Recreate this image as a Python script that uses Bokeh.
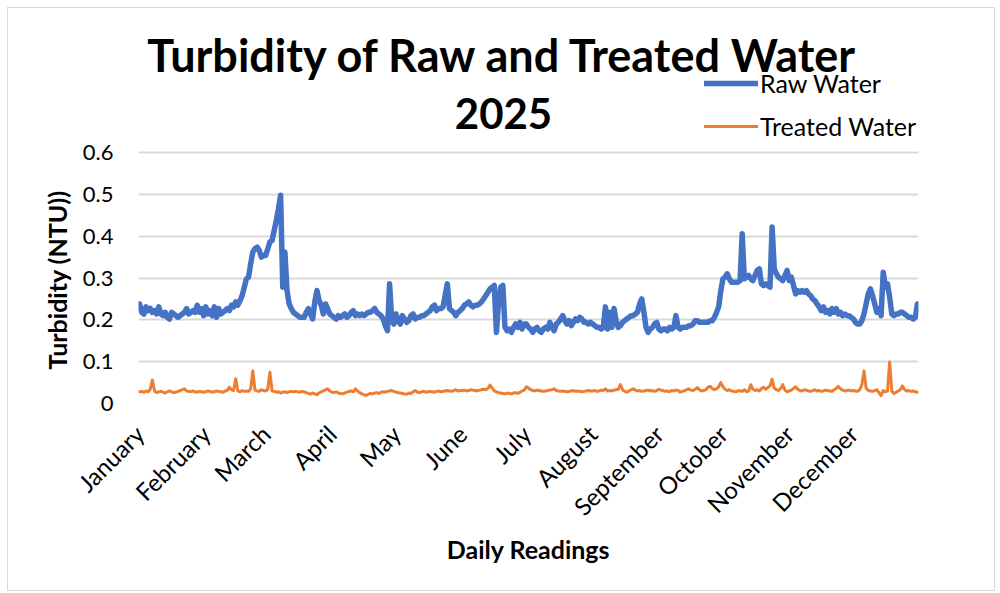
from math import pi
from bokeh.plotting import figure
from bokeh.models import Range1d, FixedTicker, Label, Legend, LegendItem, Title
from bokeh.embed import file_html
from bokeh.resources import INLINE

months = ["January", "February", "March", "April", "May", "June", "July",
          "August", "September", "October", "November", "December"]
month_days = [31, 28, 31, 30, 31, 30, 31, 31, 30, 31, 30, 31]
y_ticks = [0, 0.1, 0.2, 0.3, 0.4, 0.5, 0.6]
y_tick_labels = ["0", "0.1", "0.2", "0.3", "0.4", "0.5", "0.6"]

# Raw water turbidity (NTU), daily readings per month
raw_jan = [0.238, 0.218, 0.214, 0.231, 0.222, 0.227, 0.218, 0.222, 0.214, 0.231,
           0.214, 0.210, 0.218, 0.206, 0.202, 0.218, 0.214, 0.210, 0.206, 0.210,
           0.214, 0.218, 0.227, 0.214, 0.218, 0.222, 0.218, 0.235, 0.218, 0.227,
           0.210]
raw_feb = [0.231, 0.214, 0.222, 0.210, 0.231, 0.206, 0.227, 0.214, 0.218, 0.222,
           0.227, 0.222, 0.235, 0.231, 0.243, 0.235, 0.246, 0.258, 0.278, 0.298,
           0.302, 0.334, 0.362, 0.370, 0.374, 0.366, 0.350, 0.354]
raw_mar = [0.354, 0.370, 0.386, 0.390, 0.414, 0.438, 0.466, 0.498, 0.278, 0.362,
           0.270, 0.238, 0.227, 0.218, 0.214, 0.210, 0.206, 0.206, 0.206, 0.218,
           0.227, 0.214, 0.202, 0.243, 0.270, 0.246, 0.235, 0.214, 0.238, 0.227,
           0.214]
raw_apr = [0.210, 0.206, 0.202, 0.210, 0.206, 0.210, 0.214, 0.206, 0.210, 0.218,
           0.222, 0.210, 0.214, 0.210, 0.214, 0.210, 0.214, 0.218, 0.218, 0.222,
           0.227, 0.218, 0.214, 0.210, 0.202, 0.186, 0.174, 0.286, 0.198, 0.190]
raw_may = [0.214, 0.198, 0.190, 0.210, 0.202, 0.194, 0.198, 0.210, 0.214, 0.202,
           0.206, 0.206, 0.210, 0.210, 0.214, 0.218, 0.222, 0.231, 0.235, 0.222,
           0.227, 0.227, 0.231, 0.258, 0.286, 0.227, 0.222, 0.218, 0.210, 0.218,
           0.222]
raw_jun = [0.227, 0.235, 0.238, 0.243, 0.235, 0.231, 0.235, 0.235, 0.238, 0.243,
           0.250, 0.258, 0.266, 0.274, 0.278, 0.282, 0.170, 0.243, 0.278, 0.282,
           0.182, 0.174, 0.178, 0.170, 0.182, 0.190, 0.182, 0.194, 0.178, 0.190]
raw_jul = [0.190, 0.182, 0.178, 0.170, 0.178, 0.182, 0.174, 0.170, 0.178, 0.182,
           0.178, 0.194, 0.182, 0.174, 0.190, 0.194, 0.202, 0.210, 0.198, 0.190,
           0.198, 0.186, 0.194, 0.202, 0.198, 0.206, 0.202, 0.194, 0.194, 0.190,
           0.194]
raw_aug = [0.190, 0.186, 0.182, 0.182, 0.178, 0.182, 0.231, 0.178, 0.218, 0.182,
           0.227, 0.198, 0.182, 0.186, 0.194, 0.198, 0.202, 0.206, 0.210, 0.210,
           0.214, 0.218, 0.238, 0.250, 0.218, 0.182, 0.170, 0.178, 0.182, 0.190,
           0.194]
raw_sep = [0.178, 0.174, 0.178, 0.178, 0.174, 0.182, 0.178, 0.182, 0.210, 0.182,
           0.178, 0.182, 0.182, 0.182, 0.186, 0.186, 0.190, 0.198, 0.198, 0.194,
           0.194, 0.194, 0.194, 0.194, 0.198, 0.198, 0.206, 0.218, 0.231, 0.270]
raw_oct = [0.298, 0.302, 0.310, 0.298, 0.290, 0.290, 0.290, 0.290, 0.294, 0.406,
           0.298, 0.302, 0.306, 0.298, 0.294, 0.306, 0.318, 0.322, 0.286, 0.282,
           0.286, 0.282, 0.278, 0.422, 0.322, 0.310, 0.302, 0.298, 0.294, 0.306,
           0.318]
raw_nov = [0.294, 0.302, 0.282, 0.262, 0.270, 0.266, 0.270, 0.266, 0.270, 0.262,
           0.258, 0.250, 0.246, 0.238, 0.231, 0.222, 0.231, 0.218, 0.222, 0.214,
           0.227, 0.218, 0.227, 0.214, 0.218, 0.210, 0.214, 0.210, 0.210, 0.206]
raw_dec = [0.202, 0.194, 0.190, 0.190, 0.198, 0.214, 0.238, 0.262, 0.274, 0.258,
           0.238, 0.218, 0.227, 0.210, 0.314, 0.278, 0.286, 0.254, 0.214, 0.210,
           0.214, 0.214, 0.218, 0.218, 0.214, 0.210, 0.206, 0.206, 0.202, 0.206,
           0.238]

# Treated water turbidity (NTU), daily readings per month
treated_jan = [0.028, 0.029, 0.027, 0.030, 0.028, 0.034, 0.056, 0.030, 0.026, 0.028,
               0.029, 0.027, 0.025, 0.028, 0.030, 0.028, 0.026, 0.027, 0.029, 0.031,
               0.033, 0.035, 0.030, 0.029, 0.028, 0.030, 0.028, 0.027, 0.029, 0.028,
               0.027]
treated_feb = [0.028, 0.030, 0.029, 0.027, 0.028, 0.030, 0.029, 0.028, 0.027, 0.030,
               0.031, 0.039, 0.033, 0.031, 0.059, 0.030, 0.028, 0.031, 0.029, 0.030,
               0.029, 0.035, 0.078, 0.032, 0.030, 0.029, 0.033, 0.031]
treated_mar = [0.030, 0.034, 0.075, 0.030, 0.029, 0.027, 0.028, 0.025, 0.027, 0.028,
               0.026, 0.028, 0.029, 0.028, 0.029, 0.028, 0.027, 0.029, 0.028, 0.026,
               0.024, 0.022, 0.025, 0.023, 0.021, 0.025, 0.028, 0.030, 0.033, 0.035,
               0.030]
treated_apr = [0.027, 0.026, 0.028, 0.025, 0.024, 0.023, 0.025, 0.027, 0.029, 0.030,
               0.028, 0.035, 0.030, 0.026, 0.023, 0.021, 0.019, 0.022, 0.024, 0.023,
               0.025, 0.026, 0.024, 0.027, 0.028, 0.027, 0.029, 0.030, 0.031, 0.029]
treated_may = [0.027, 0.026, 0.025, 0.024, 0.023, 0.022, 0.025, 0.024, 0.028, 0.031,
               0.027, 0.026, 0.028, 0.029, 0.027, 0.028, 0.029, 0.028, 0.027, 0.029,
               0.030, 0.028, 0.029, 0.030, 0.031, 0.030, 0.029, 0.031, 0.033, 0.030,
               0.031]
treated_jun = [0.031, 0.032, 0.030, 0.031, 0.033, 0.032, 0.031, 0.030, 0.032, 0.033,
               0.034, 0.033, 0.036, 0.044, 0.037, 0.030, 0.028, 0.026, 0.025, 0.024,
               0.023, 0.025, 0.024, 0.023, 0.025, 0.026, 0.024, 0.027, 0.030, 0.032]
treated_jul = [0.040, 0.037, 0.033, 0.031, 0.030, 0.032, 0.031, 0.030, 0.029, 0.030,
               0.031, 0.032, 0.033, 0.035, 0.031, 0.030, 0.029, 0.030, 0.029, 0.028,
               0.029, 0.030, 0.031, 0.029, 0.030, 0.029, 0.028, 0.029, 0.030, 0.031,
               0.030]
treated_aug = [0.030, 0.031, 0.029, 0.030, 0.032, 0.031, 0.035, 0.030, 0.031, 0.030,
               0.032, 0.033, 0.034, 0.045, 0.033, 0.029, 0.027, 0.030, 0.033, 0.035,
               0.032, 0.030, 0.031, 0.029, 0.030, 0.031, 0.032, 0.030, 0.031, 0.029,
               0.031]
treated_sep = [0.034, 0.032, 0.031, 0.029, 0.030, 0.028, 0.031, 0.030, 0.032, 0.031,
               0.027, 0.029, 0.031, 0.033, 0.035, 0.032, 0.031, 0.034, 0.038, 0.033,
               0.030, 0.031, 0.033, 0.039, 0.041, 0.036, 0.033, 0.035, 0.040, 0.050]
treated_oct = [0.040, 0.034, 0.031, 0.033, 0.030, 0.029, 0.028, 0.030, 0.031, 0.029,
               0.033, 0.028, 0.030, 0.045, 0.034, 0.031, 0.033, 0.030, 0.036, 0.039,
               0.034, 0.038, 0.042, 0.058, 0.037, 0.033, 0.031, 0.036, 0.045, 0.032,
               0.028]
treated_nov = [0.030, 0.032, 0.036, 0.040, 0.034, 0.031, 0.030, 0.033, 0.032, 0.030,
               0.029, 0.031, 0.033, 0.030, 0.031, 0.029, 0.030, 0.032, 0.031, 0.030,
               0.029, 0.033, 0.036, 0.041, 0.035, 0.032, 0.030, 0.031, 0.032, 0.030]
treated_dec = [0.031, 0.030, 0.029, 0.033, 0.045, 0.078, 0.036, 0.031, 0.030, 0.029,
               0.031, 0.033, 0.026, 0.019, 0.031, 0.028, 0.030, 0.099, 0.030, 0.024,
               0.027, 0.030, 0.033, 0.042, 0.033, 0.030, 0.031, 0.029, 0.030, 0.028,
               0.027]

raw = (raw_jan + raw_feb + raw_mar + raw_apr + raw_may + raw_jun +
       raw_jul + raw_aug + raw_sep + raw_oct + raw_nov + raw_dec)
treated = (treated_jan + treated_feb + treated_mar + treated_apr + treated_may +
           treated_jun + treated_jul + treated_aug + treated_sep + treated_oct +
           treated_nov + treated_dec)
days = list(range(len(raw)))

month_starts = []
acc = 0
for n in month_days:
    month_starts.append(acc)
    acc += n

FONT = "Lato"
BLUE = "#4472C4"
ORANGE = "#ED7D31"
GRID = "#D9D9D9"

# layout constants (pixels)
FRAME_W, FRAME_H = 780, 395
PX_PER_UNIT = 251 / 0.6
y_top = FRAME_H / PX_PER_UNIT

p = figure(frame_width=FRAME_W, frame_height=FRAME_H,
           min_border_left=130, min_border_right=76,
           min_border_top=0, min_border_bottom=187,
           x_range=Range1d(-0.5, len(raw) - 0.5), y_range=Range1d(0, y_top),
           output_backend="svg", toolbar_location=None,
           background_fill_color="white", border_fill_color="white")
p.outline_line_color = None
p.styles = {"border": "1px solid #D9D9D9", "margin-left": "7px", "margin-top": "7px"}

r_raw = p.line(days, raw, line_color=BLUE, line_width=5.5,
               line_join="round", line_cap="round")
r_tr = p.line(days, treated, line_color=ORANGE, line_width=3,
              line_join="round", line_cap="round")

# y axis
p.yaxis.ticker = FixedTicker(ticks=y_ticks)
p.yaxis.major_label_overrides = {t: s for t, s in zip(y_ticks, y_tick_labels)}
p.yaxis.axis_line_color = None
p.yaxis.major_tick_line_color = None
p.yaxis.minor_tick_line_color = None
p.yaxis.major_tick_out = 0
p.yaxis.major_tick_in = 0
p.yaxis.minor_tick_out = 0
p.yaxis.major_label_standoff = 25
p.yaxis.major_label_text_font = FONT
p.yaxis.major_label_text_font_size = "22px"
p.yaxis.major_label_text_color = "black"

# x axis
p.xaxis.ticker = FixedTicker(ticks=month_starts)
p.xaxis.major_label_overrides = {s: m for s, m in zip(month_starts, months)}
p.xaxis.major_label_orientation = pi / 4
p.xaxis.axis_line_color = None
p.xaxis.major_tick_line_color = None
p.xaxis.minor_tick_line_color = None
p.xaxis.major_tick_out = 0
p.xaxis.major_tick_in = 0
p.xaxis.minor_tick_out = 0
p.xaxis.major_label_standoff = 26
p.xaxis.major_label_text_font = FONT
p.xaxis.major_label_text_font_size = "24px"
p.xaxis.major_label_text_color = "black"
p.xaxis.axis_label = "Daily Readings"
p.xaxis.axis_label_text_font = FONT
p.xaxis.axis_label_text_font_size = "25px"
p.xaxis.axis_label_text_font_style = "bold"
p.xaxis.axis_label_text_color = "black"
p.xaxis.axis_label_standoff = 0

p.xgrid.grid_line_color = None
p.ygrid.grid_line_color = GRID
p.ygrid.grid_line_width = 2

# y-axis title (centred on the 0-0.6 span)
p.add_layout(Title(text="Turbidity (NTU))", align="left", offset=34, standoff=15,
                   text_font=FONT, text_font_size="25px", text_font_style="bold",
                   text_color="black"), "left")

# chart title (two lines)
p.add_layout(Label(x=365, y=349, x_units="screen", y_units="screen",
                   text="Turbidity of Raw and Treated Water",
                   text_align="center", text_baseline="middle",
                   text_font=FONT, text_font_size="45px", text_font_style="bold",
                   text_color="black"))
p.add_layout(Label(x=365, y=290, x_units="screen", y_units="screen",
                   text="2025",
                   text_align="center", text_baseline="middle",
                   text_font=FONT, text_font_size="42px", text_font_style="bold",
                   text_color="black"))

legend = Legend(items=[LegendItem(label="Raw Water", renderers=[r_raw]),
                       LegendItem(label="Treated Water", renderers=[r_tr])],
                location=(566, 262), orientation="vertical",
                glyph_width=54, glyph_height=20, label_height=20,
                label_standoff=2, spacing=13, padding=0, margin=0,
                label_text_font=FONT, label_text_font_size="25px",
                label_text_color="black",
                background_fill_alpha=0, border_line_color=None)
p.add_layout(legend)

open("out.html", "w").write(file_html(p, INLINE))
